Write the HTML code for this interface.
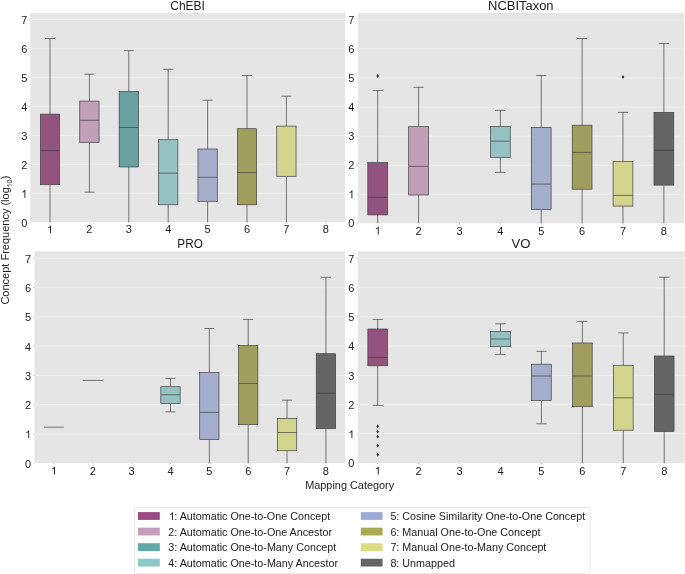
<!DOCTYPE html><html><head><meta charset="utf-8"><style>html,body{margin:0;padding:0;background:#fff;width:685px;height:574px;overflow:hidden}svg{display:block;will-change:transform}text{font-family:"Liberation Sans",sans-serif;fill:#222}</style></head><body>
<svg width="685" height="574" viewBox="0 0 685 574">
<rect x="0" y="0" width="685" height="574" fill="#fff"/>
<rect x="30.3" y="12.9" width="314.7" height="209.3" fill="#E5E5E5"/>
<line x1="30.3" x2="345" y1="193.32" y2="193.32" stroke="#EDEDED" stroke-width="1.3"/>
<line x1="30.3" x2="345" y1="164.34" y2="164.34" stroke="#EDEDED" stroke-width="1.3"/>
<line x1="30.3" x2="345" y1="135.36" y2="135.36" stroke="#EDEDED" stroke-width="1.3"/>
<line x1="30.3" x2="345" y1="106.38" y2="106.38" stroke="#EDEDED" stroke-width="1.3"/>
<line x1="30.3" x2="345" y1="77.4" y2="77.4" stroke="#EDEDED" stroke-width="1.3"/>
<line x1="30.3" x2="345" y1="48.42" y2="48.42" stroke="#EDEDED" stroke-width="1.3"/>
<line x1="30.3" x2="345" y1="19.44" y2="19.44" stroke="#EDEDED" stroke-width="1.3"/>
<line x1="29" x2="30.3" y1="222.3" y2="222.3" stroke="#aaa" stroke-width="0.6"/>
<text x="27.4" y="226.7" font-size="11" text-anchor="end">0</text>
<line x1="29" x2="30.3" y1="193.32" y2="193.32" stroke="#aaa" stroke-width="0.6"/>
<path transform="translate(21.28,197.72) scale(0.005371,-0.005371)" d="M763 0H583V1147Q518 1085 412.5 1023Q307 961 223 930V1104Q374 1175 487 1276Q600 1377 647 1472H763Z" fill="#222"/>
<line x1="29" x2="30.3" y1="164.34" y2="164.34" stroke="#aaa" stroke-width="0.6"/>
<text x="27.4" y="168.74" font-size="11" text-anchor="end">2</text>
<line x1="29" x2="30.3" y1="135.36" y2="135.36" stroke="#aaa" stroke-width="0.6"/>
<text x="27.4" y="139.76" font-size="11" text-anchor="end">3</text>
<line x1="29" x2="30.3" y1="106.38" y2="106.38" stroke="#aaa" stroke-width="0.6"/>
<text x="27.4" y="110.78" font-size="11" text-anchor="end">4</text>
<line x1="29" x2="30.3" y1="77.4" y2="77.4" stroke="#aaa" stroke-width="0.6"/>
<text x="27.4" y="81.8" font-size="11" text-anchor="end">5</text>
<line x1="29" x2="30.3" y1="48.42" y2="48.42" stroke="#aaa" stroke-width="0.6"/>
<text x="27.4" y="52.82" font-size="11" text-anchor="end">6</text>
<line x1="29" x2="30.3" y1="19.44" y2="19.44" stroke="#aaa" stroke-width="0.6"/>
<text x="27.4" y="23.84" font-size="11" text-anchor="end">7</text>
<line x1="50" x2="50" y1="222.2" y2="223.5" stroke="#aaa" stroke-width="0.6"/>
<path transform="translate(46.94,233.3) scale(0.005371,-0.005371)" d="M763 0H583V1147Q518 1085 412.5 1023Q307 961 223 930V1104Q374 1175 487 1276Q600 1377 647 1472H763Z" fill="#222"/>
<line x1="89.4" x2="89.4" y1="222.2" y2="223.5" stroke="#aaa" stroke-width="0.6"/>
<text x="89.4" y="233.3" font-size="11" text-anchor="middle">2</text>
<line x1="128.8" x2="128.8" y1="222.2" y2="223.5" stroke="#aaa" stroke-width="0.6"/>
<text x="128.8" y="233.3" font-size="11" text-anchor="middle">3</text>
<line x1="168.2" x2="168.2" y1="222.2" y2="223.5" stroke="#aaa" stroke-width="0.6"/>
<text x="168.2" y="233.3" font-size="11" text-anchor="middle">4</text>
<line x1="207.6" x2="207.6" y1="222.2" y2="223.5" stroke="#aaa" stroke-width="0.6"/>
<text x="207.6" y="233.3" font-size="11" text-anchor="middle">5</text>
<line x1="247" x2="247" y1="222.2" y2="223.5" stroke="#aaa" stroke-width="0.6"/>
<text x="247" y="233.3" font-size="11" text-anchor="middle">6</text>
<line x1="286.4" x2="286.4" y1="222.2" y2="223.5" stroke="#aaa" stroke-width="0.6"/>
<text x="286.4" y="233.3" font-size="11" text-anchor="middle">7</text>
<line x1="325.8" x2="325.8" y1="222.2" y2="223.5" stroke="#aaa" stroke-width="0.6"/>
<text x="325.8" y="233.3" font-size="11" text-anchor="middle">8</text>
<text x="187.6" y="10.2" font-size="12.5" text-anchor="middle" textLength="34.7" lengthAdjust="spacingAndGlyphs">ChEBI</text>
<line x1="50" x2="50" y1="114.1" y2="38.5" stroke="#424242" stroke-width="0.7"/>
<line x1="45" x2="55" y1="38.5" y2="38.5" stroke="#424242" stroke-width="0.7"/>
<line x1="50" x2="50" y1="184.7" y2="222.2" stroke="#424242" stroke-width="0.7"/>
<rect x="40.35" y="114.1" width="19.3" height="70.6" fill="#92537F" stroke="#424242" stroke-width="0.7"/>
<line x1="40.7" x2="59.3" y1="150.6" y2="150.6" stroke="#424242" stroke-width="0.7"/>
<line x1="89.4" x2="89.4" y1="101.1" y2="74.2" stroke="#424242" stroke-width="0.7"/>
<line x1="84.4" x2="94.4" y1="74.2" y2="74.2" stroke="#424242" stroke-width="0.7"/>
<line x1="89.4" x2="89.4" y1="142.5" y2="192.2" stroke="#424242" stroke-width="0.7"/>
<line x1="84.4" x2="94.4" y1="192.2" y2="192.2" stroke="#424242" stroke-width="0.7"/>
<rect x="79.75" y="101.1" width="19.3" height="41.4" fill="#BFA0B7" stroke="#424242" stroke-width="0.7"/>
<line x1="80.1" x2="98.7" y1="120.3" y2="120.3" stroke="#424242" stroke-width="0.7"/>
<line x1="128.8" x2="128.8" y1="91.5" y2="50.6" stroke="#424242" stroke-width="0.7"/>
<line x1="123.8" x2="133.8" y1="50.6" y2="50.6" stroke="#424242" stroke-width="0.7"/>
<line x1="128.8" x2="128.8" y1="167" y2="222.2" stroke="#424242" stroke-width="0.7"/>
<rect x="119.15" y="91.5" width="19.3" height="75.5" fill="#68A19E" stroke="#424242" stroke-width="0.7"/>
<line x1="119.5" x2="138.1" y1="127.5" y2="127.5" stroke="#424242" stroke-width="0.7"/>
<line x1="168.2" x2="168.2" y1="139.7" y2="69.3" stroke="#424242" stroke-width="0.7"/>
<line x1="163.2" x2="173.2" y1="69.3" y2="69.3" stroke="#424242" stroke-width="0.7"/>
<line x1="168.2" x2="168.2" y1="204.8" y2="222.2" stroke="#424242" stroke-width="0.7"/>
<rect x="158.55" y="139.7" width="19.3" height="65.1" fill="#95C1C3" stroke="#424242" stroke-width="0.7"/>
<line x1="158.9" x2="177.5" y1="173.1" y2="173.1" stroke="#424242" stroke-width="0.7"/>
<line x1="207.6" x2="207.6" y1="149" y2="100.2" stroke="#424242" stroke-width="0.7"/>
<line x1="202.6" x2="212.6" y1="100.2" y2="100.2" stroke="#424242" stroke-width="0.7"/>
<line x1="207.6" x2="207.6" y1="201.3" y2="222.2" stroke="#424242" stroke-width="0.7"/>
<rect x="197.95" y="149" width="19.3" height="52.3" fill="#A3ADCC" stroke="#424242" stroke-width="0.7"/>
<line x1="198.3" x2="216.9" y1="177.3" y2="177.3" stroke="#424242" stroke-width="0.7"/>
<line x1="247" x2="247" y1="128.7" y2="75.4" stroke="#424242" stroke-width="0.7"/>
<line x1="242" x2="252" y1="75.4" y2="75.4" stroke="#424242" stroke-width="0.7"/>
<line x1="247" x2="247" y1="204.8" y2="222.2" stroke="#424242" stroke-width="0.7"/>
<rect x="237.35" y="128.7" width="19.3" height="76.1" fill="#A09E5F" stroke="#424242" stroke-width="0.7"/>
<line x1="237.7" x2="256.3" y1="172.6" y2="172.6" stroke="#424242" stroke-width="0.7"/>
<line x1="286.4" x2="286.4" y1="126.1" y2="96.2" stroke="#424242" stroke-width="0.7"/>
<line x1="281.4" x2="291.4" y1="96.2" y2="96.2" stroke="#424242" stroke-width="0.7"/>
<line x1="286.4" x2="286.4" y1="176.3" y2="222.2" stroke="#424242" stroke-width="0.7"/>
<rect x="276.75" y="126.1" width="19.3" height="50.2" fill="#D3D48E" stroke="#424242" stroke-width="0.7"/>
<rect x="358.1" y="12.9" width="325.9" height="210.4" fill="#E5E5E5"/>
<line x1="358.1" x2="684" y1="194.47" y2="194.47" stroke="#EDEDED" stroke-width="1.3"/>
<line x1="358.1" x2="684" y1="165.36" y2="165.36" stroke="#EDEDED" stroke-width="1.3"/>
<line x1="358.1" x2="684" y1="136.25" y2="136.25" stroke="#EDEDED" stroke-width="1.3"/>
<line x1="358.1" x2="684" y1="107.14" y2="107.14" stroke="#EDEDED" stroke-width="1.3"/>
<line x1="358.1" x2="684" y1="78.03" y2="78.03" stroke="#EDEDED" stroke-width="1.3"/>
<line x1="358.1" x2="684" y1="48.92" y2="48.92" stroke="#EDEDED" stroke-width="1.3"/>
<line x1="358.1" x2="684" y1="19.81" y2="19.81" stroke="#EDEDED" stroke-width="1.3"/>
<line x1="356.8" x2="358.1" y1="223.58" y2="223.58" stroke="#aaa" stroke-width="0.6"/>
<text x="354.4" y="227.38" font-size="11" text-anchor="end">0</text>
<line x1="356.8" x2="358.1" y1="194.47" y2="194.47" stroke="#aaa" stroke-width="0.6"/>
<path transform="translate(348.28,198.27) scale(0.005371,-0.005371)" d="M763 0H583V1147Q518 1085 412.5 1023Q307 961 223 930V1104Q374 1175 487 1276Q600 1377 647 1472H763Z" fill="#222"/>
<line x1="356.8" x2="358.1" y1="165.36" y2="165.36" stroke="#aaa" stroke-width="0.6"/>
<text x="354.4" y="169.16" font-size="11" text-anchor="end">2</text>
<line x1="356.8" x2="358.1" y1="136.25" y2="136.25" stroke="#aaa" stroke-width="0.6"/>
<text x="354.4" y="140.05" font-size="11" text-anchor="end">3</text>
<line x1="356.8" x2="358.1" y1="107.14" y2="107.14" stroke="#aaa" stroke-width="0.6"/>
<text x="354.4" y="110.94" font-size="11" text-anchor="end">4</text>
<line x1="356.8" x2="358.1" y1="78.03" y2="78.03" stroke="#aaa" stroke-width="0.6"/>
<text x="354.4" y="81.83" font-size="11" text-anchor="end">5</text>
<line x1="356.8" x2="358.1" y1="48.92" y2="48.92" stroke="#aaa" stroke-width="0.6"/>
<text x="354.4" y="52.72" font-size="11" text-anchor="end">6</text>
<line x1="356.8" x2="358.1" y1="19.81" y2="19.81" stroke="#aaa" stroke-width="0.6"/>
<text x="354.4" y="23.61" font-size="11" text-anchor="end">7</text>
<line x1="377.7" x2="377.7" y1="223.3" y2="224.6" stroke="#aaa" stroke-width="0.6"/>
<path transform="translate(374.64,234.5) scale(0.005371,-0.005371)" d="M763 0H583V1147Q518 1085 412.5 1023Q307 961 223 930V1104Q374 1175 487 1276Q600 1377 647 1472H763Z" fill="#222"/>
<line x1="418.58" x2="418.58" y1="223.3" y2="224.6" stroke="#aaa" stroke-width="0.6"/>
<text x="418.58" y="234.5" font-size="11" text-anchor="middle">2</text>
<line x1="459.46" x2="459.46" y1="223.3" y2="224.6" stroke="#aaa" stroke-width="0.6"/>
<text x="459.46" y="234.5" font-size="11" text-anchor="middle">3</text>
<line x1="500.34" x2="500.34" y1="223.3" y2="224.6" stroke="#aaa" stroke-width="0.6"/>
<text x="500.34" y="234.5" font-size="11" text-anchor="middle">4</text>
<line x1="541.22" x2="541.22" y1="223.3" y2="224.6" stroke="#aaa" stroke-width="0.6"/>
<text x="541.22" y="234.5" font-size="11" text-anchor="middle">5</text>
<line x1="582.1" x2="582.1" y1="223.3" y2="224.6" stroke="#aaa" stroke-width="0.6"/>
<text x="582.1" y="234.5" font-size="11" text-anchor="middle">6</text>
<line x1="622.98" x2="622.98" y1="223.3" y2="224.6" stroke="#aaa" stroke-width="0.6"/>
<text x="622.98" y="234.5" font-size="11" text-anchor="middle">7</text>
<line x1="663.86" x2="663.86" y1="223.3" y2="224.6" stroke="#aaa" stroke-width="0.6"/>
<text x="663.86" y="234.5" font-size="11" text-anchor="middle">8</text>
<text x="520.8" y="10.1" font-size="12.5" text-anchor="middle" textLength="65.5" lengthAdjust="spacingAndGlyphs">NCBITaxon</text>
<line x1="377.7" x2="377.7" y1="162.6" y2="90.4" stroke="#424242" stroke-width="0.7"/>
<line x1="372.57" x2="382.82" y1="90.4" y2="90.4" stroke="#424242" stroke-width="0.7"/>
<line x1="377.7" x2="377.7" y1="214.9" y2="223.3" stroke="#424242" stroke-width="0.7"/>
<rect x="367.8" y="162.6" width="19.8" height="52.3" fill="#92537F" stroke="#424242" stroke-width="0.7"/>
<line x1="368.15" x2="387.25" y1="197.4" y2="197.4" stroke="#424242" stroke-width="0.7"/>
<path d="M377.7 73.9 L378.95 75.9 L377.7 77.9 L376.45 75.9 Z" fill="#2a2a2a"/>
<line x1="418.58" x2="418.58" y1="126.6" y2="87.3" stroke="#424242" stroke-width="0.7"/>
<line x1="413.45" x2="423.7" y1="87.3" y2="87.3" stroke="#424242" stroke-width="0.7"/>
<line x1="418.58" x2="418.58" y1="195" y2="223.3" stroke="#424242" stroke-width="0.7"/>
<rect x="408.68" y="126.6" width="19.8" height="68.4" fill="#BFA0B7" stroke="#424242" stroke-width="0.7"/>
<line x1="409.03" x2="428.13" y1="166.3" y2="166.3" stroke="#424242" stroke-width="0.7"/>
<line x1="500.34" x2="500.34" y1="126.4" y2="110.4" stroke="#424242" stroke-width="0.7"/>
<line x1="495.22" x2="505.47" y1="110.4" y2="110.4" stroke="#424242" stroke-width="0.7"/>
<line x1="500.34" x2="500.34" y1="157.4" y2="172.4" stroke="#424242" stroke-width="0.7"/>
<line x1="495.22" x2="505.47" y1="172.4" y2="172.4" stroke="#424242" stroke-width="0.7"/>
<rect x="490.44" y="126.4" width="19.8" height="31" fill="#95C1C3" stroke="#424242" stroke-width="0.7"/>
<line x1="490.79" x2="509.89" y1="141.1" y2="141.1" stroke="#424242" stroke-width="0.7"/>
<line x1="541.22" x2="541.22" y1="127.4" y2="75.5" stroke="#424242" stroke-width="0.7"/>
<line x1="536.1" x2="546.35" y1="75.5" y2="75.5" stroke="#424242" stroke-width="0.7"/>
<line x1="541.22" x2="541.22" y1="209.6" y2="223.3" stroke="#424242" stroke-width="0.7"/>
<rect x="531.32" y="127.4" width="19.8" height="82.2" fill="#A3ADCC" stroke="#424242" stroke-width="0.7"/>
<line x1="531.67" x2="550.77" y1="184.1" y2="184.1" stroke="#424242" stroke-width="0.7"/>
<line x1="582.1" x2="582.1" y1="125.2" y2="38.5" stroke="#424242" stroke-width="0.7"/>
<line x1="576.98" x2="587.23" y1="38.5" y2="38.5" stroke="#424242" stroke-width="0.7"/>
<line x1="582.1" x2="582.1" y1="189.2" y2="223.3" stroke="#424242" stroke-width="0.7"/>
<rect x="572.2" y="125.2" width="19.8" height="64" fill="#A09E5F" stroke="#424242" stroke-width="0.7"/>
<line x1="572.55" x2="591.65" y1="152.4" y2="152.4" stroke="#424242" stroke-width="0.7"/>
<line x1="622.98" x2="622.98" y1="161.5" y2="112.4" stroke="#424242" stroke-width="0.7"/>
<line x1="617.86" x2="628.11" y1="112.4" y2="112.4" stroke="#424242" stroke-width="0.7"/>
<line x1="622.98" x2="622.98" y1="206.1" y2="223.3" stroke="#424242" stroke-width="0.7"/>
<rect x="613.08" y="161.5" width="19.8" height="44.6" fill="#D3D48E" stroke="#424242" stroke-width="0.7"/>
<line x1="613.43" x2="632.53" y1="195.4" y2="195.4" stroke="#424242" stroke-width="0.7"/>
<path d="M622.98 75 L624.23 77 L622.98 79 L621.73 77 Z" fill="#2a2a2a"/>
<line x1="663.86" x2="663.86" y1="112.4" y2="43.4" stroke="#424242" stroke-width="0.7"/>
<line x1="658.74" x2="668.99" y1="43.4" y2="43.4" stroke="#424242" stroke-width="0.7"/>
<line x1="663.86" x2="663.86" y1="185.1" y2="223.3" stroke="#424242" stroke-width="0.7"/>
<rect x="653.96" y="112.4" width="19.8" height="72.7" fill="#656565" stroke="#424242" stroke-width="0.7"/>
<line x1="654.31" x2="673.41" y1="150.2" y2="150.2" stroke="#424242" stroke-width="0.7"/>
<rect x="34.5" y="251.4" width="310.5" height="211.6" fill="#E5E5E5"/>
<line x1="34.5" x2="345" y1="433.86" y2="433.86" stroke="#EDEDED" stroke-width="1.3"/>
<line x1="34.5" x2="345" y1="404.62" y2="404.62" stroke="#EDEDED" stroke-width="1.3"/>
<line x1="34.5" x2="345" y1="375.38" y2="375.38" stroke="#EDEDED" stroke-width="1.3"/>
<line x1="34.5" x2="345" y1="346.14" y2="346.14" stroke="#EDEDED" stroke-width="1.3"/>
<line x1="34.5" x2="345" y1="316.9" y2="316.9" stroke="#EDEDED" stroke-width="1.3"/>
<line x1="34.5" x2="345" y1="287.66" y2="287.66" stroke="#EDEDED" stroke-width="1.3"/>
<line x1="34.5" x2="345" y1="258.42" y2="258.42" stroke="#EDEDED" stroke-width="1.3"/>
<line x1="33.2" x2="34.5" y1="463.1" y2="463.1" stroke="#aaa" stroke-width="0.6"/>
<text x="31.2" y="467.5" font-size="11" text-anchor="end">0</text>
<line x1="33.2" x2="34.5" y1="433.86" y2="433.86" stroke="#aaa" stroke-width="0.6"/>
<path transform="translate(25.08,438.26) scale(0.005371,-0.005371)" d="M763 0H583V1147Q518 1085 412.5 1023Q307 961 223 930V1104Q374 1175 487 1276Q600 1377 647 1472H763Z" fill="#222"/>
<line x1="33.2" x2="34.5" y1="404.62" y2="404.62" stroke="#aaa" stroke-width="0.6"/>
<text x="31.2" y="409.02" font-size="11" text-anchor="end">2</text>
<line x1="33.2" x2="34.5" y1="375.38" y2="375.38" stroke="#aaa" stroke-width="0.6"/>
<text x="31.2" y="379.78" font-size="11" text-anchor="end">3</text>
<line x1="33.2" x2="34.5" y1="346.14" y2="346.14" stroke="#aaa" stroke-width="0.6"/>
<text x="31.2" y="350.54" font-size="11" text-anchor="end">4</text>
<line x1="33.2" x2="34.5" y1="316.9" y2="316.9" stroke="#aaa" stroke-width="0.6"/>
<text x="31.2" y="321.3" font-size="11" text-anchor="end">5</text>
<line x1="33.2" x2="34.5" y1="287.66" y2="287.66" stroke="#aaa" stroke-width="0.6"/>
<text x="31.2" y="292.06" font-size="11" text-anchor="end">6</text>
<line x1="33.2" x2="34.5" y1="258.42" y2="258.42" stroke="#aaa" stroke-width="0.6"/>
<text x="31.2" y="262.82" font-size="11" text-anchor="end">7</text>
<line x1="53.9" x2="53.9" y1="463" y2="464.3" stroke="#aaa" stroke-width="0.6"/>
<path transform="translate(50.84,474.6) scale(0.005371,-0.005371)" d="M763 0H583V1147Q518 1085 412.5 1023Q307 961 223 930V1104Q374 1175 487 1276Q600 1377 647 1472H763Z" fill="#222"/>
<line x1="92.76" x2="92.76" y1="463" y2="464.3" stroke="#aaa" stroke-width="0.6"/>
<text x="92.76" y="474.6" font-size="11" text-anchor="middle">2</text>
<line x1="131.62" x2="131.62" y1="463" y2="464.3" stroke="#aaa" stroke-width="0.6"/>
<text x="131.62" y="474.6" font-size="11" text-anchor="middle">3</text>
<line x1="170.48" x2="170.48" y1="463" y2="464.3" stroke="#aaa" stroke-width="0.6"/>
<text x="170.48" y="474.6" font-size="11" text-anchor="middle">4</text>
<line x1="209.34" x2="209.34" y1="463" y2="464.3" stroke="#aaa" stroke-width="0.6"/>
<text x="209.34" y="474.6" font-size="11" text-anchor="middle">5</text>
<line x1="248.2" x2="248.2" y1="463" y2="464.3" stroke="#aaa" stroke-width="0.6"/>
<text x="248.2" y="474.6" font-size="11" text-anchor="middle">6</text>
<line x1="287.06" x2="287.06" y1="463" y2="464.3" stroke="#aaa" stroke-width="0.6"/>
<text x="287.06" y="474.6" font-size="11" text-anchor="middle">7</text>
<line x1="325.92" x2="325.92" y1="463" y2="464.3" stroke="#aaa" stroke-width="0.6"/>
<text x="325.92" y="474.6" font-size="11" text-anchor="middle">8</text>
<text x="190.05" y="248.2" font-size="12.5" text-anchor="middle" textLength="25.5" lengthAdjust="spacingAndGlyphs">PRO</text>
<line x1="43.9" x2="63.9" y1="427.2" y2="427.2" stroke="#424242" stroke-width="0.7"/>
<line x1="82.76" x2="102.76" y1="380.4" y2="380.4" stroke="#424242" stroke-width="0.7"/>
<line x1="170.48" x2="170.48" y1="386.7" y2="378.5" stroke="#424242" stroke-width="0.7"/>
<line x1="165.48" x2="175.48" y1="378.5" y2="378.5" stroke="#424242" stroke-width="0.7"/>
<line x1="170.48" x2="170.48" y1="403.5" y2="411.9" stroke="#424242" stroke-width="0.7"/>
<line x1="165.48" x2="175.48" y1="411.9" y2="411.9" stroke="#424242" stroke-width="0.7"/>
<rect x="160.83" y="386.7" width="19.3" height="16.8" fill="#95C1C3" stroke="#424242" stroke-width="0.7"/>
<line x1="161.18" x2="179.78" y1="394.8" y2="394.8" stroke="#424242" stroke-width="0.7"/>
<line x1="209.34" x2="209.34" y1="372.4" y2="328.5" stroke="#424242" stroke-width="0.7"/>
<line x1="204.34" x2="214.34" y1="328.5" y2="328.5" stroke="#424242" stroke-width="0.7"/>
<line x1="209.34" x2="209.34" y1="439.5" y2="463" stroke="#424242" stroke-width="0.7"/>
<rect x="199.69" y="372.4" width="19.3" height="67.1" fill="#A3ADCC" stroke="#424242" stroke-width="0.7"/>
<line x1="200.04" x2="218.64" y1="412.4" y2="412.4" stroke="#424242" stroke-width="0.7"/>
<line x1="248.2" x2="248.2" y1="345.5" y2="319.4" stroke="#424242" stroke-width="0.7"/>
<line x1="243.2" x2="253.2" y1="319.4" y2="319.4" stroke="#424242" stroke-width="0.7"/>
<line x1="248.2" x2="248.2" y1="424.5" y2="463" stroke="#424242" stroke-width="0.7"/>
<rect x="238.55" y="345.5" width="19.3" height="79" fill="#A09E5F" stroke="#424242" stroke-width="0.7"/>
<line x1="238.9" x2="257.5" y1="383.4" y2="383.4" stroke="#424242" stroke-width="0.7"/>
<line x1="287.06" x2="287.06" y1="418.4" y2="400.2" stroke="#424242" stroke-width="0.7"/>
<line x1="282.06" x2="292.06" y1="400.2" y2="400.2" stroke="#424242" stroke-width="0.7"/>
<line x1="287.06" x2="287.06" y1="450.7" y2="463" stroke="#424242" stroke-width="0.7"/>
<rect x="277.41" y="418.4" width="19.3" height="32.3" fill="#D3D48E" stroke="#424242" stroke-width="0.7"/>
<line x1="277.76" x2="296.36" y1="432.5" y2="432.5" stroke="#424242" stroke-width="0.7"/>
<line x1="325.92" x2="325.92" y1="353.7" y2="277.3" stroke="#424242" stroke-width="0.7"/>
<line x1="320.92" x2="330.92" y1="277.3" y2="277.3" stroke="#424242" stroke-width="0.7"/>
<line x1="325.92" x2="325.92" y1="428.7" y2="463" stroke="#424242" stroke-width="0.7"/>
<rect x="316.27" y="353.7" width="19.3" height="75" fill="#656565" stroke="#424242" stroke-width="0.7"/>
<line x1="316.62" x2="335.22" y1="393.2" y2="393.2" stroke="#424242" stroke-width="0.7"/>
<rect x="358" y="251.4" width="326.5" height="211.6" fill="#E5E5E5"/>
<line x1="358" x2="684.5" y1="433.72" y2="433.72" stroke="#EDEDED" stroke-width="1.3"/>
<line x1="358" x2="684.5" y1="404.51" y2="404.51" stroke="#EDEDED" stroke-width="1.3"/>
<line x1="358" x2="684.5" y1="375.3" y2="375.3" stroke="#EDEDED" stroke-width="1.3"/>
<line x1="358" x2="684.5" y1="346.09" y2="346.09" stroke="#EDEDED" stroke-width="1.3"/>
<line x1="358" x2="684.5" y1="316.88" y2="316.88" stroke="#EDEDED" stroke-width="1.3"/>
<line x1="358" x2="684.5" y1="287.67" y2="287.67" stroke="#EDEDED" stroke-width="1.3"/>
<line x1="358" x2="684.5" y1="258.46" y2="258.46" stroke="#EDEDED" stroke-width="1.3"/>
<line x1="356.7" x2="358" y1="462.93" y2="462.93" stroke="#aaa" stroke-width="0.6"/>
<text x="354.4" y="467.33" font-size="11" text-anchor="end">0</text>
<line x1="356.7" x2="358" y1="433.72" y2="433.72" stroke="#aaa" stroke-width="0.6"/>
<path transform="translate(348.28,438.12) scale(0.005371,-0.005371)" d="M763 0H583V1147Q518 1085 412.5 1023Q307 961 223 930V1104Q374 1175 487 1276Q600 1377 647 1472H763Z" fill="#222"/>
<line x1="356.7" x2="358" y1="404.51" y2="404.51" stroke="#aaa" stroke-width="0.6"/>
<text x="354.4" y="408.91" font-size="11" text-anchor="end">2</text>
<line x1="356.7" x2="358" y1="375.3" y2="375.3" stroke="#aaa" stroke-width="0.6"/>
<text x="354.4" y="379.7" font-size="11" text-anchor="end">3</text>
<line x1="356.7" x2="358" y1="346.09" y2="346.09" stroke="#aaa" stroke-width="0.6"/>
<text x="354.4" y="350.49" font-size="11" text-anchor="end">4</text>
<line x1="356.7" x2="358" y1="316.88" y2="316.88" stroke="#aaa" stroke-width="0.6"/>
<text x="354.4" y="321.28" font-size="11" text-anchor="end">5</text>
<line x1="356.7" x2="358" y1="287.67" y2="287.67" stroke="#aaa" stroke-width="0.6"/>
<text x="354.4" y="292.07" font-size="11" text-anchor="end">6</text>
<line x1="356.7" x2="358" y1="258.46" y2="258.46" stroke="#aaa" stroke-width="0.6"/>
<text x="354.4" y="262.86" font-size="11" text-anchor="end">7</text>
<line x1="377.7" x2="377.7" y1="463" y2="464.3" stroke="#aaa" stroke-width="0.6"/>
<path transform="translate(374.64,474.6) scale(0.005371,-0.005371)" d="M763 0H583V1147Q518 1085 412.5 1023Q307 961 223 930V1104Q374 1175 487 1276Q600 1377 647 1472H763Z" fill="#222"/>
<line x1="418.63" x2="418.63" y1="463" y2="464.3" stroke="#aaa" stroke-width="0.6"/>
<text x="418.63" y="474.6" font-size="11" text-anchor="middle">2</text>
<line x1="459.56" x2="459.56" y1="463" y2="464.3" stroke="#aaa" stroke-width="0.6"/>
<text x="459.56" y="474.6" font-size="11" text-anchor="middle">3</text>
<line x1="500.49" x2="500.49" y1="463" y2="464.3" stroke="#aaa" stroke-width="0.6"/>
<text x="500.49" y="474.6" font-size="11" text-anchor="middle">4</text>
<line x1="541.42" x2="541.42" y1="463" y2="464.3" stroke="#aaa" stroke-width="0.6"/>
<text x="541.42" y="474.6" font-size="11" text-anchor="middle">5</text>
<line x1="582.35" x2="582.35" y1="463" y2="464.3" stroke="#aaa" stroke-width="0.6"/>
<text x="582.35" y="474.6" font-size="11" text-anchor="middle">6</text>
<line x1="623.28" x2="623.28" y1="463" y2="464.3" stroke="#aaa" stroke-width="0.6"/>
<text x="623.28" y="474.6" font-size="11" text-anchor="middle">7</text>
<line x1="664.21" x2="664.21" y1="463" y2="464.3" stroke="#aaa" stroke-width="0.6"/>
<text x="664.21" y="474.6" font-size="11" text-anchor="middle">8</text>
<text x="520.9" y="248" font-size="12.5" text-anchor="middle" textLength="18.95" lengthAdjust="spacingAndGlyphs">VO</text>
<line x1="377.7" x2="377.7" y1="329" y2="319.4" stroke="#424242" stroke-width="0.7"/>
<line x1="372.6" x2="382.8" y1="319.4" y2="319.4" stroke="#424242" stroke-width="0.7"/>
<line x1="377.7" x2="377.7" y1="365.8" y2="405.4" stroke="#424242" stroke-width="0.7"/>
<line x1="372.6" x2="382.8" y1="405.4" y2="405.4" stroke="#424242" stroke-width="0.7"/>
<rect x="367.85" y="329" width="19.7" height="36.8" fill="#92537F" stroke="#424242" stroke-width="0.7"/>
<line x1="368.2" x2="387.2" y1="357.5" y2="357.5" stroke="#424242" stroke-width="0.7"/>
<path d="M377.7 424.2 L378.95 426.2 L377.7 428.2 L376.45 426.2 Z" fill="#2a2a2a"/>
<path d="M377.7 429.7 L378.95 431.7 L377.7 433.7 L376.45 431.7 Z" fill="#2a2a2a"/>
<path d="M377.7 434.8 L378.95 436.8 L377.7 438.8 L376.45 436.8 Z" fill="#2a2a2a"/>
<path d="M377.7 443.7 L378.95 445.7 L377.7 447.7 L376.45 445.7 Z" fill="#2a2a2a"/>
<path d="M377.7 452.7 L378.95 454.7 L377.7 456.7 L376.45 454.7 Z" fill="#2a2a2a"/>
<line x1="500.49" x2="500.49" y1="331.5" y2="323.8" stroke="#424242" stroke-width="0.7"/>
<line x1="495.39" x2="505.59" y1="323.8" y2="323.8" stroke="#424242" stroke-width="0.7"/>
<line x1="500.49" x2="500.49" y1="346.7" y2="354.4" stroke="#424242" stroke-width="0.7"/>
<line x1="495.39" x2="505.59" y1="354.4" y2="354.4" stroke="#424242" stroke-width="0.7"/>
<rect x="490.64" y="331.5" width="19.7" height="15.2" fill="#95C1C3" stroke="#424242" stroke-width="0.7"/>
<line x1="490.99" x2="509.99" y1="339" y2="339" stroke="#424242" stroke-width="0.7"/>
<line x1="541.42" x2="541.42" y1="364.2" y2="351.3" stroke="#424242" stroke-width="0.7"/>
<line x1="536.32" x2="546.52" y1="351.3" y2="351.3" stroke="#424242" stroke-width="0.7"/>
<line x1="541.42" x2="541.42" y1="400.5" y2="423.8" stroke="#424242" stroke-width="0.7"/>
<line x1="536.32" x2="546.52" y1="423.8" y2="423.8" stroke="#424242" stroke-width="0.7"/>
<rect x="531.57" y="364.2" width="19.7" height="36.3" fill="#A3ADCC" stroke="#424242" stroke-width="0.7"/>
<line x1="531.92" x2="550.92" y1="376" y2="376" stroke="#424242" stroke-width="0.7"/>
<line x1="582.35" x2="582.35" y1="343" y2="321.4" stroke="#424242" stroke-width="0.7"/>
<line x1="577.25" x2="587.45" y1="321.4" y2="321.4" stroke="#424242" stroke-width="0.7"/>
<line x1="582.35" x2="582.35" y1="406.7" y2="463" stroke="#424242" stroke-width="0.7"/>
<rect x="572.5" y="343" width="19.7" height="63.7" fill="#A09E5F" stroke="#424242" stroke-width="0.7"/>
<line x1="572.85" x2="591.85" y1="376" y2="376" stroke="#424242" stroke-width="0.7"/>
<line x1="623.28" x2="623.28" y1="365.3" y2="332.9" stroke="#424242" stroke-width="0.7"/>
<line x1="618.18" x2="628.38" y1="332.9" y2="332.9" stroke="#424242" stroke-width="0.7"/>
<line x1="623.28" x2="623.28" y1="430.2" y2="463" stroke="#424242" stroke-width="0.7"/>
<rect x="613.43" y="365.3" width="19.7" height="64.9" fill="#D3D48E" stroke="#424242" stroke-width="0.7"/>
<line x1="613.78" x2="632.78" y1="397.8" y2="397.8" stroke="#424242" stroke-width="0.7"/>
<line x1="664.21" x2="664.21" y1="356" y2="277.2" stroke="#424242" stroke-width="0.7"/>
<line x1="659.11" x2="669.31" y1="277.2" y2="277.2" stroke="#424242" stroke-width="0.7"/>
<line x1="664.21" x2="664.21" y1="431.4" y2="463" stroke="#424242" stroke-width="0.7"/>
<rect x="654.36" y="356" width="19.7" height="75.4" fill="#656565" stroke="#424242" stroke-width="0.7"/>
<line x1="654.71" x2="673.71" y1="394.4" y2="394.4" stroke="#424242" stroke-width="0.7"/>
<text x="349.7" y="489.2" font-size="11" text-anchor="middle" textLength="89" lengthAdjust="spacingAndGlyphs">Mapping Category</text>
<g transform="translate(9.0,304.6) rotate(-90)">
<text x="0" y="0" font-size="11">Concept Frequency (log</text>
<path transform="translate(117.2,3.2) scale(0.003516,-0.003516)" d="M763 0H583V1147Q518 1085 412.5 1023Q307 961 223 930V1104Q374 1175 487 1276Q600 1377 647 1472H763Z" fill="#222"/>
<text x="121.2" y="3.2" font-size="7.2">0</text>
<text x="125.41" y="0" font-size="11">)</text>
</g>
<rect x="134.5" y="507.5" width="455.5" height="65.8" rx="2" ry="2" fill="#fff" stroke="#E8E8E8" stroke-width="1"/>
<rect x="138" y="512.1" width="21.8" height="7.8" fill="#9A4A85"/>
<path transform="translate(169,520) scale(0.005249,-0.005249)" d="M763 0H583V1147Q518 1085 412.5 1023Q307 961 223 930V1104Q374 1175 487 1276Q600 1377 647 1472H763Z" fill="#222"/>
<text x="174.28" y="520" font-size="10.75">: Automatic One-to-One Concept</text>
<rect x="138" y="527.65" width="21.8" height="7.8" fill="#C49DBC"/>
<text x="168.3" y="535.55" font-size="10.75">2: Automatic One-to-One Ancestor</text>
<rect x="138" y="543.2" width="21.8" height="7.8" fill="#62A8A8"/>
<text x="168.3" y="551.1" font-size="10.75">3: Automatic One-to-Many Concept</text>
<rect x="138" y="558.75" width="21.8" height="7.8" fill="#8DC9C9"/>
<text x="168.3" y="566.65" font-size="10.75">4: Automatic One-to-Many Ancestor</text>
<rect x="360.8" y="512.1" width="21.8" height="7.8" fill="#9DAAD5"/>
<text x="390.4" y="520" font-size="10.75">5: Cosine Similarity One-to-One Concept</text>
<rect x="360.8" y="527.65" width="21.8" height="7.8" fill="#AAAA55"/>
<text x="390.4" y="535.55" font-size="10.75">6: Manual One-to-One Concept</text>
<rect x="360.8" y="543.2" width="21.8" height="7.8" fill="#DDDC83"/>
<text x="390.4" y="551.1" font-size="10.75">7: Manual One-to-Many Concept</text>
<rect x="360.8" y="558.75" width="21.8" height="7.8" fill="#656565"/>
<text x="390.4" y="566.65" font-size="10.75">8: Unmapped</text>
</svg></body></html>
